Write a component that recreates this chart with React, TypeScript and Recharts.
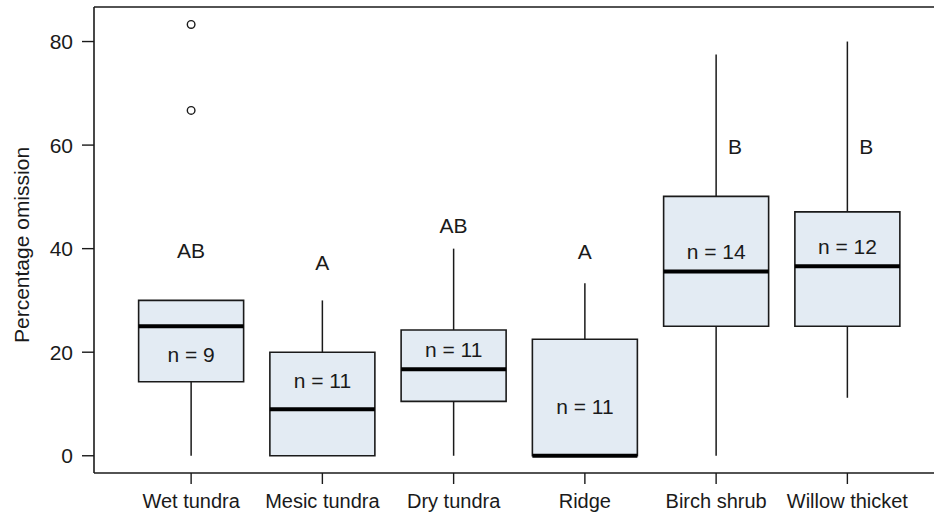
import React from 'react';
import {
  ComposedChart,
  XAxis,
  YAxis,
  Scatter,
  ReferenceArea,
  ReferenceLine,
} from 'recharts';

// habitat classes, left to right
const categories = ['Wet tundra', 'Mesic tundra', 'Dry tundra', 'Ridge', 'Birch shrub', 'Willow thicket'];

// box plot statistics (percentage omission)
const whiskerLow = [0, 0, 0, 0, 0, 11.2];
const q1 = [14.3, 0, 10.5, 0, 25, 25];
const median = [25, 9, 16.7, 0, 35.6, 36.6];
const q3 = [30, 20, 24.3, 22.5, 50.1, 47.1];
const whiskerHigh = [30, 30, 40, 33.3, 77.5, 80];

// outliers: category number + value
const outlierCat = [1, 1];
const outlierValue = [83.3, 66.7];

// significance letters and sample sizes
const groupLetters = ['AB', 'A', 'AB', 'A', 'B', 'B'];
const letterAt = [39.6, 37.4, 44.5, 39.5, 59.7, 59.7];
const sampleSizes = [9, 11, 11, 11, 14, 12];
const nLabelAt = [19.6, 14.5, 20.6, 9.5, 39.5, 40.5];

const yTicks = [0, 20, 40, 60, 80];
const Y_MIN = -3.33;
const Y_MAX = 86.67;

const FONT = '"Liberation Sans", Arial, sans-serif';
const INK = '#1a1a1a';
const BOX_FILL = '#e3ebf3';
const HALF = 0.4;

const outliers = outlierCat.map((c, i) => ({ x: c, y: outlierValue[i] }));
const letters = categories.map((_, i) => ({
  x: i + 1,
  y: letterAt[i],
  text: groupLetters[i],
  // shift the letter off the whisker when the whisker runs through it
  shift: whiskerHigh[i] > letterAt[i] ? 19 : 0,
}));
const nLabels = categories.map((_, i) => ({
  x: i + 1,
  y: nLabelAt[i],
  text: `n = ${sampleSizes[i]}`,
  shift: 0,
}));

const TextMark = (props: any) => {
  const { cx, cy, payload } = props;
  if (cx == null || cy == null) return null;
  return (
    <text
      x={cx + (payload.shift || 0)}
      y={cy}
      dy="0.36em"
      textAnchor="middle"
      fontFamily={FONT}
      fontSize={21}
      fill={INK}
    >
      {payload.text}
    </text>
  );
};

const OpenCircle = (props: any) => {
  const { cx, cy } = props;
  if (cx == null || cy == null) return null;
  return <circle cx={cx} cy={cy} r={3.8} fill="#fff" stroke={INK} strokeWidth={1.4} />;
};

const YLabel = () => (
  <text
    x={29}
    y={245}
    transform="rotate(-90 29 245)"
    textAnchor="middle"
    fontFamily={FONT}
    fontSize={21}
    fill={INK}
  >
    Percentage omission
  </text>
);

export default function App() {
  return (
    <div style={{ position: 'absolute', left: 0, top: 0, width: 934, height: 517, background: '#fff' }}>
      <ComposedChart width={934} height={517} margin={{ top: 7, right: 0, bottom: 0, left: 0 }}>
        <XAxis
          type="number"
          dataKey="x"
          domain={[0.26, 6.66]}
          allowDataOverflow
          ticks={[1, 2, 3, 4, 5, 6]}
          interval={0}
          tickFormatter={(v: number) => categories[v - 1]}
          height={44}
          tickSize={11}
          tickMargin={10}
          axisLine={{ stroke: INK, strokeWidth: 1.6 }}
          tickLine={{ stroke: INK, strokeWidth: 1.4 }}
          tick={{ fill: INK, fontFamily: FONT, fontSize: 20 }}
        />
        <YAxis
          type="number"
          dataKey="y"
          domain={[Y_MIN, Y_MAX]}
          allowDataOverflow
          ticks={yTicks}
          interval={0}
          width={94}
          tickSize={12}
          tickMargin={9}
          axisLine={{ stroke: INK, strokeWidth: 1.6 }}
          tickLine={{ stroke: INK, strokeWidth: 1.4 }}
          tick={{ fill: INK, fontFamily: FONT, fontSize: 21 }}
          label={YLabel}
        />
        <ReferenceLine y={Y_MAX} stroke={INK} strokeWidth={1.6} ifOverflow="visible" />

        {categories.map((c, i) => (
          <ReferenceLine
            key={`wl-${c}`}
            segment={[{ x: i + 1, y: whiskerLow[i] }, { x: i + 1, y: q1[i] }]}
            stroke={INK}
            strokeWidth={1.5}
          />
        ))}
        {categories.map((c, i) => (
          <ReferenceLine
            key={`wh-${c}`}
            segment={[{ x: i + 1, y: q3[i] }, { x: i + 1, y: whiskerHigh[i] }]}
            stroke={INK}
            strokeWidth={1.5}
          />
        ))}
        {categories.map((c, i) => (
          <ReferenceArea
            key={`box-${c}`}
            x1={i + 1 - HALF}
            x2={i + 1 + HALF}
            y1={q1[i]}
            y2={q3[i]}
            fill={BOX_FILL}
            fillOpacity={1}
            stroke={INK}
            strokeWidth={1.6}
          />
        ))}
        {categories.map((c, i) => (
          <ReferenceLine
            key={`med-${c}`}
            segment={[{ x: i + 1 - HALF, y: median[i] }, { x: i + 1 + HALF, y: median[i] }]}
            stroke="#000"
            strokeWidth={4}
          />
        ))}

        <Scatter data={outliers} dataKey="y" shape={OpenCircle} isAnimationActive={false} />
        <Scatter data={letters} dataKey="y" shape={TextMark} isAnimationActive={false} />
        <Scatter data={nLabels} dataKey="y" shape={TextMark} isAnimationActive={false} />
      </ComposedChart>
    </div>
  );
}
